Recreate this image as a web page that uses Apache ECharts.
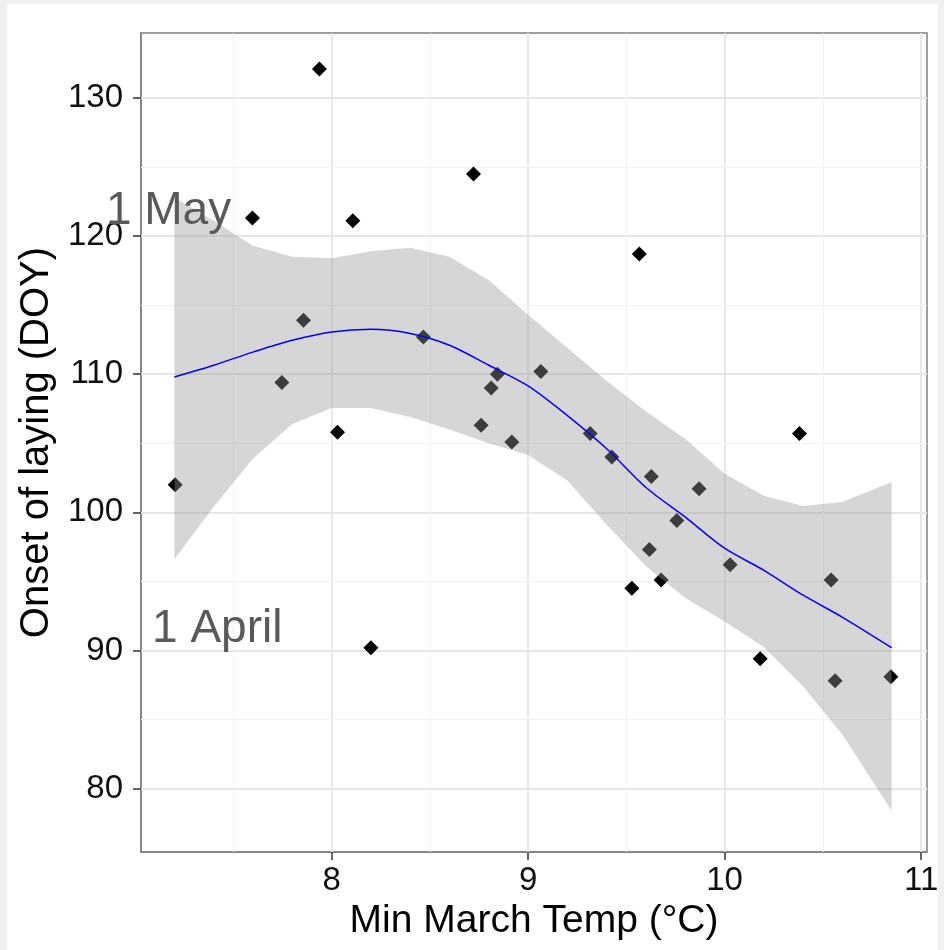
<!DOCTYPE html>
<html>
<head>
<meta charset="utf-8">
<script src="https://cdn.jsdelivr.net/npm/echarts@6/dist/echarts.min.js"></script>
<style>
  html, body { margin: 0; padding: 0; background: #f0f0f0; }
  #chart { position: absolute; left: 7px; top: 4px; width: 931px; height: 946px; background: #fff; }
</style>
</head>
<body>
<div id="chart"></div>
<script>
// observed points: min March temperature vs onset of laying (day of year)
const tempX = [7.204, 7.597, 7.747, 7.857, 7.938, 8.030, 8.108, 8.200, 8.467, 8.722,
               8.761, 8.812, 8.844, 8.917, 9.065, 9.316, 9.426, 9.528, 9.566, 9.617,
               9.627, 9.677, 9.757, 9.870, 10.028, 10.181, 10.381, 10.542, 10.562, 10.846];
const onsetDOY = [102.0, 121.3, 109.4, 113.9, 132.1, 105.8, 121.1, 90.2, 112.7, 124.5,
                  106.3, 109.0, 110.0, 105.1, 110.2, 105.7, 104.0, 94.5, 118.7, 97.3,
                  102.6, 95.1, 99.4, 101.7, 96.2, 89.4, 105.7, 95.1, 87.8, 88.1];

// loess fit + confidence band
const fitX     = [7.2, 7.4, 7.6, 7.8, 8.0, 8.2, 8.4, 8.6, 8.8, 9.0, 9.2, 9.4, 9.6, 9.8, 10.0, 10.2, 10.4, 10.6, 10.85];
const fitY     = [109.8, 110.65, 111.6, 112.45, 113.05, 113.25, 112.95, 112.1, 110.65, 109.15, 107.0, 104.6, 101.8, 99.65, 97.4, 95.8, 94.0, 92.4, 90.2];
const fitUpper = [122.8, 121.1, 119.3, 118.5, 118.4, 118.9, 119.15, 118.5, 116.8, 114.3, 111.9, 109.5, 107.3, 105.3, 102.8, 101.2, 100.45, 100.75, 102.2];
const fitLower = [96.6, 100.4, 103.9, 106.4, 107.55, 107.55, 106.9, 106.0, 105.0, 104.15, 102.3, 99.1, 96.1, 93.8, 92.1, 90.25, 87.4, 83.9, 78.4];

const xTicks = [8, 9, 10, 11];
const xMinor = [7.5, 8.5, 9.5, 10.5];
const yTicks = [80, 90, 100, 110, 120, 130];
const yMinor = [85, 95, 105, 115, 125];

const annotX = [7.17, 7.418];
const annotY = [121.8, 91.5];
const annotText = ['1 May', '1 April'];

const font = 'Liberation Sans, Arial, sans-serif';

const chart = echarts.init(document.getElementById('chart'));

const gridLines = [];
xTicks.forEach(v => gridLines.push({ xAxis: v, lineStyle: { color: '#e6e6e6', width: 1.8, type: 'solid' } }));
yTicks.forEach(v => gridLines.push({ yAxis: v, lineStyle: { color: '#e6e6e6', width: 1.8, type: 'solid' } }));
xMinor.forEach(v => gridLines.push({ xAxis: v, lineStyle: { color: '#f2f2f2', width: 1, type: 'solid' } }));
yMinor.forEach(v => gridLines.push({ yAxis: v, lineStyle: { color: '#f2f2f2', width: 1, type: 'solid' } }));

// confidence ribbon as one polygon: upper edge forward, lower edge back
function renderBand(params, api) {
  if (params.dataIndex !== 0) return;
  const pts = [];
  for (let i = 0; i < fitX.length; i++) pts.push(api.coord([fitX[i], fitUpper[i]]));
  for (let i = fitX.length - 1; i >= 0; i--) pts.push(api.coord([fitX[i], fitLower[i]]));
  return {
    type: 'polygon',
    shape: { points: pts },
    style: { fill: 'rgba(153,153,153,0.4)', stroke: 'none' }
  };
}

chart.setOption({
  animation: false,
  backgroundColor: '#fff',
  grid: {
    left: 134, top: 29, right: 11, bottom: 98,
    show: true, borderColor: '#7f7f7f', borderWidth: 1.5, backgroundColor: '#fff',
    outerBoundsMode: 'none'
  },
  xAxis: {
    type: 'value', min: 7.03, max: 11.03,
    splitLine: { show: false },
    axisLine: { show: true, onZero: false, lineStyle: { color: '#7f7f7f', width: 1.5 } },
    axisTick: { show: true, customValues: xTicks, length: 8, lineStyle: { color: '#333', width: 1.5 } },
    axisLabel: { customValues: xTicks, margin: 12, fontSize: 33, color: '#111', fontFamily: font },
    name: 'Min March Temp (°C)', nameLocation: 'middle', nameGap: 46,
    nameTextStyle: { fontSize: 39, color: '#000', fontFamily: font }
  },
  yAxis: {
    type: 'value', min: 75.41, max: 134.7,
    splitLine: { show: false },
    axisLine: { show: true, onZero: false, lineStyle: { color: '#7f7f7f', width: 1.5 } },
    axisTick: { show: true, customValues: yTicks, length: 8, lineStyle: { color: '#333', width: 1.5 } },
    axisLabel: { customValues: yTicks, margin: 18, fontSize: 33, color: '#111', fontFamily: font },
    name: 'Onset of laying (DOY)', nameLocation: 'middle', nameGap: 66,
    nameTextStyle: { fontSize: 40, color: '#000', fontFamily: font }
  },
  series: [
    {
      type: 'line', data: [], silent: true, z: 1,
      markLine: { silent: true, z: 1, symbol: 'none', label: { show: false }, animation: false, data: gridLines }
    },
    {
      type: 'scatter', z: 2, symbol: 'diamond', symbolSize: 15,
      itemStyle: { color: '#000', opacity: 1 },
      data: tempX.map((x, i) => [x, onsetDOY[i]])
    },
    {
      type: 'custom', z: 3, silent: true,
      renderItem: renderBand,
      data: fitX.map((x, i) => [x, fitUpper[i]])
    },
    {
      type: 'line', z: 4, smooth: 0.3, showSymbol: false, silent: true,
      lineStyle: { color: '#0000ff', width: 1.5 },
      data: fitX.map((x, i) => [x, fitY[i]])
    },
    {
      type: 'scatter', z: 5, symbolSize: 1, silent: true,
      itemStyle: { color: 'rgba(0,0,0,0)', opacity: 1 },
      label: {
        show: true, position: 'inside', fontSize: 46, color: '#595959', opacity: 1,
        fontFamily: font, formatter: p => annotText[p.dataIndex]
      },
      data: annotX.map((x, i) => [x, annotY[i]])
    }
  ]
});
</script>
</body>
</html>
